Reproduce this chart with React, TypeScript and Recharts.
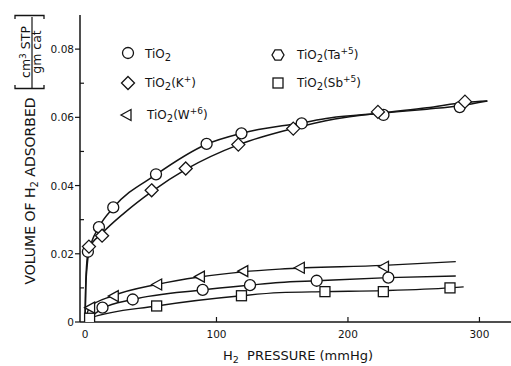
import React from "react";
import { ComposedChart, Line, Scatter, XAxis, YAxis } from "recharts";

// ---------- data ----------
// markers
const tio2X = [2.2, 10.6, 21.5, 54, 92.5, 119, 164.8, 227, 285];
const tio2Y = [0.0206, 0.0278, 0.0336, 0.0433, 0.0522, 0.0553, 0.0582, 0.0607, 0.063];
const kX = [3, 13, 50.7, 76.6, 116.6, 158.4, 222.8, 289];
const kY = [0.0221, 0.0253, 0.0386, 0.045, 0.052, 0.0567, 0.0616, 0.0646];
const wX = [3.5, 21.5, 54.5, 87, 120, 163, 227];
const wY = [0.0042, 0.0076, 0.011, 0.0133, 0.0149, 0.0159, 0.0162];
const taX = [13.3, 36.3, 89.5, 125.5, 176.2, 230.7];
const taY = [0.0042, 0.0066, 0.0094, 0.0108, 0.0121, 0.013];
const sbX = [3.5, 54.5, 119, 182.5, 226.9, 277.6];
const sbY = [0.0011, 0.0047, 0.0077, 0.0089, 0.0089, 0.01];

// drawn curves
const tio2CurveX = [0, 0.5, 1.5, 3, 10.6, 21.5, 54, 92.5, 119, 165, 186, 225, 260, 285, 306];
const tio2CurveY = [0, 0.009, 0.016, 0.0205, 0.0278, 0.0335, 0.0432, 0.0521, 0.0553, 0.0584, 0.0598, 0.0612, 0.0624, 0.0634, 0.0648];
const kCurveX = [0, 0.5, 1.5, 3, 13, 30, 51, 77, 117, 158, 190, 225, 260, 290, 306];
const kCurveY = [0, 0.01, 0.018, 0.0215, 0.026, 0.032, 0.0383, 0.0448, 0.052, 0.0567, 0.0595, 0.0613, 0.0628, 0.0644, 0.0648];
const wCurveX = [0, 3.5, 21.5, 54.5, 87, 120, 148, 227, 282];
const wCurveY = [0, 0.0043, 0.0077, 0.011, 0.0132, 0.0147, 0.0155, 0.0166, 0.0177];
const taCurveX = [0, 13.3, 36.3, 89.5, 125.5, 148, 176.2, 230.7, 282];
const taCurveY = [0, 0.004, 0.0066, 0.0094, 0.0108, 0.0116, 0.0121, 0.013, 0.0135];
const sbCurveX = [0, 3.5, 54.5, 119, 148, 182.5, 227, 277.6, 288];
const sbCurveY = [0, 0.0011, 0.0047, 0.0077, 0.0086, 0.0089, 0.0092, 0.01, 0.0103];

// axes
const xTicks = [0, 100, 200, 300];
const xTopTicks = [100, 200, 300];
const yTicks = [0, 0.01, 0.02, 0.03, 0.04, 0.05, 0.06, 0.07, 0.08];
const yRightTicks = [0.01, 0.02, 0.03, 0.04, 0.05, 0.06, 0.07, 0.08];
const yLabels: Record<string, string> = { "0": "0", "0.02": "0.02", "0.04": "0.04", "0.06": "0.06", "0.08": "0.08" };

const zip = (xs: number[], ys: number[]) => xs.map((x, i) => ({ x, y: ys[i] }));

const INK = "#141414";
const FONT = "'DejaVu Sans', sans-serif";

// ---------- marker shapes ----------
const CircleM = ({ cx, cy }: any) => (
  <circle cx={cx} cy={cy} r={5.5} fill="#fff" stroke={INK} strokeWidth={1.3} />
);
const DiamondM = ({ cx, cy }: any) => {
  const d = 6.5;
  return (
    <polygon
      points={`${cx},${cy - d} ${cx + d},${cy} ${cx},${cy + d} ${cx - d},${cy}`}
      fill="#fff"
      stroke={INK}
      strokeWidth={1.3}
    />
  );
};
const TriM = ({ cx, cy }: any) => (
  <polygon
    points={`${cx - 5},${cy} ${cx + 5},${cy - 5.5} ${cx + 5},${cy + 5.5}`}
    fill="#fff"
    stroke={INK}
    strokeWidth={1.3}
  />
);
const SquareM = ({ cx, cy }: any) => (
  <rect x={cx - 5} y={cy - 5} width={10} height={10} fill="#fff" stroke={INK} strokeWidth={1.3} />
);
const HexM = ({ cx, cy }: any) => {
  const r = 6;
  const pts = [0, 60, 120, 180, 240, 300]
    .map((a) => `${cx + r * Math.cos((a * Math.PI) / 180)},${cy + r * Math.sin((a * Math.PI) / 180)}`)
    .join(" ");
  return <polygon points={pts} fill="#fff" stroke={INK} strokeWidth={1.3} />;
};

// ---------- ticks ----------
const LeftTick = ({ x, y, payload }: any) => {
  const v = payload.value;
  const key = String(Math.round(v * 100) / 100);
  const label = yLabels[key];
  const major = label !== undefined;
  return (
    <g>
      {major ? (
        <line x1={x - 5} x2={x} y1={y} y2={y} stroke={INK} strokeWidth={1.2} />
      ) : (
        <line x1={x} x2={x + 4} y1={y} y2={y} stroke={INK} strokeWidth={1.2} />
      )}
      {major && (
        <text x={x - 6} y={y + 4} textAnchor="end" fontSize={10.5} fontFamily={FONT} fill={INK}>
          {label}
        </text>
      )}
    </g>
  );
};
const RightTick = ({ x, y }: any) => (
  <line x1={x - 3} x2={x} y1={y} y2={y} stroke={INK} strokeWidth={1.2} />
);
const BottomTick = ({ x, y, payload }: any) => (
  <g>
    {payload.value !== 0 && <line x1={x} x2={x} y1={y - 5} y2={y} stroke={INK} strokeWidth={1.2} />}
    <text x={x} y={y + 16} textAnchor="middle" fontSize={10.5} fontFamily={FONT} fill={INK}>
      {payload.value}
    </text>
  </g>
);
const TopTick = ({ x, y }: any) => (
  <line x1={x} x2={x} y1={y} y2={y + 5} stroke={INK} strokeWidth={1.2} />
);

const LegendText = ({ x, y, sup }: { x: number; y: number; sup?: [string, string] }) => (
  <text x={x} y={y} fontSize={12} fontFamily={FONT} fill={INK}>
    TiO
    <tspan dy={3} fontSize={10}>2</tspan>
    {sup ? (
      <>
        <tspan dy={-3}>({sup[0]}</tspan>
        <tspan dy={-5} fontSize={9}>{sup[1]}</tspan>
        <tspan dy={5}>)</tspan>
      </>
    ) : null}
  </text>
);

export default function App() {
  const dom: [number, number] = [-3.8, 324];
  return (
    <div style={{ position: "absolute", left: 0, top: 0, width: 511, height: 366, background: "#fff" }}>
      <ComposedChart width={511} height={366} margin={{ top: 15, right: 0, bottom: 0, left: 0 }}>
        <XAxis
          xAxisId={0}
          type="number"
          dataKey="x"
          domain={dom}
          allowDataOverflow
          ticks={xTicks}
          interval={0}
          height={44}
          tickSize={0}
          tickMargin={0}
          tickLine={false}
          axisLine={{ stroke: INK, strokeWidth: 1.4 }}
          tick={(p: any) => <BottomTick {...p} />}
        />
        <XAxis
          xAxisId="top"
          orientation="top"
          type="number"
          dataKey="x"
          domain={dom}
          allowDataOverflow
          ticks={xTopTicks}
          interval={0}
          height={0}
          tickSize={0}
          tickMargin={0}
          tickLine={false}
          axisLine={{ stroke: INK, strokeWidth: 1.4 }}
          tick={(p: any) => <TopTick {...p} />}
        />
        <YAxis
          yAxisId={0}
          type="number"
          dataKey="y"
          domain={[0, 0.09]}
          allowDataOverflow
          ticks={yTicks}
          interval={0}
          width={80}
          tickSize={0}
          tickMargin={0}
          tickLine={false}
          axisLine={{ stroke: INK, strokeWidth: 1.5 }}
          tick={(p: any) => <LeftTick {...p} />}
        />
        <YAxis
          yAxisId="r"
          orientation="right"
          type="number"
          dataKey="y"
          domain={[0, 0.09]}
          allowDataOverflow
          ticks={yRightTicks}
          interval={0}
          width={0}
          tickSize={0}
          tickMargin={0}
          tickLine={false}
          axisLine={false}
          tick={(p: any) => <RightTick {...p} />}
        />

        <Line data={zip(tio2CurveX, tio2CurveY)} dataKey="y" type="monotone" stroke={INK} strokeWidth={1.5} dot={false} isAnimationActive={false} />
        <Line data={zip(kCurveX, kCurveY)} dataKey="y" type="monotone" stroke={INK} strokeWidth={1.5} dot={false} isAnimationActive={false} />
        <Line data={zip(wCurveX, wCurveY)} dataKey="y" type="monotone" stroke={INK} strokeWidth={1.4} dot={false} isAnimationActive={false} />
        <Line data={zip(taCurveX, taCurveY)} dataKey="y" type="monotone" stroke={INK} strokeWidth={1.4} dot={false} isAnimationActive={false} />
        <Line data={zip(sbCurveX, sbCurveY)} dataKey="y" type="monotone" stroke={INK} strokeWidth={1.4} dot={false} isAnimationActive={false} />

        <Scatter data={zip(tio2X, tio2Y)} dataKey="y" shape={(p: any) => <CircleM {...p} />} isAnimationActive={false} />
        <Scatter data={zip(kX, kY)} dataKey="y" shape={(p: any) => <DiamondM {...p} />} isAnimationActive={false} />
        <Scatter data={zip(wX, wY)} dataKey="y" shape={(p: any) => <TriM {...p} />} isAnimationActive={false} />
        <Scatter data={zip(taX, taY)} dataKey="y" shape={(p: any) => <CircleM {...p} />} isAnimationActive={false} />
        <Scatter data={zip(sbX, sbY)} dataKey="y" shape={(p: any) => <SquareM {...p} />} isAnimationActive={false} />
      </ComposedChart>

      <svg width={511} height={366} style={{ position: "absolute", left: 0, top: 0, pointerEvents: "none" }}>
        {/* legend */}
        <CircleM cx={128} cy={53} />
        <LegendText x={145} y={58} />
        <DiamondM cx={128} cy={83} />
        <LegendText x={145} y={87} sup={["K", "+"]} />
        <TriM cx={126} cy={115} />
        <LegendText x={147} y={119} sup={["W", "+6"]} />
        <HexM cx={278} cy={55} />
        <LegendText x={297} y={59} sup={["Ta", "+5"]} />
        <SquareM cx={278} cy={83} />
        <LegendText x={297} y={87} sup={["Sb", "+5"]} />

        {/* x title */}
        <text x={298} y={360} textAnchor="middle" fontSize={13} fontFamily={FONT} fill={INK}>
          H<tspan dy={2.5} fontSize={9.5}>2</tspan>
          <tspan dy={-2.5}>{"\u00a0\u00a0PRESSURE (mmHg)"}</tspan>
        </text>

        {/* y title */}
        <g transform="translate(35,191) rotate(-90)">
          <text x={0} y={0} textAnchor="middle" fontSize={14} fontFamily={FONT} fill={INK}>
            VOLUME OF H<tspan dy={3} fontSize={10}>2</tspan>
            <tspan dy={-3}> ADSORBED</tspan>
          </text>
        </g>
        <g transform="translate(0,52) rotate(-90)">
          <text x={0} y={30} textAnchor="middle" fontSize={12.5} fontFamily={FONT} fill={INK}>
            cm<tspan dy={-4} fontSize={9}>3</tspan>
            <tspan dy={4}> STP</tspan>
          </text>
          <text x={0} y={41} textAnchor="middle" fontSize={12.5} fontFamily={FONT} fill={INK}>
            gm cat
          </text>
        </g>
        <line x1={32} x2={32} y1={17} y2={88} stroke={INK} strokeWidth={1.2} />
        <path d="M15,85 L15,88.5 L44,88.5 L44,85" fill="none" stroke={INK} strokeWidth={1.3} />
        <path d="M15,19 L15,15.5 L44,15.5 L44,19" fill="none" stroke={INK} strokeWidth={1.3} />
      </svg>
    </div>
  );
}
